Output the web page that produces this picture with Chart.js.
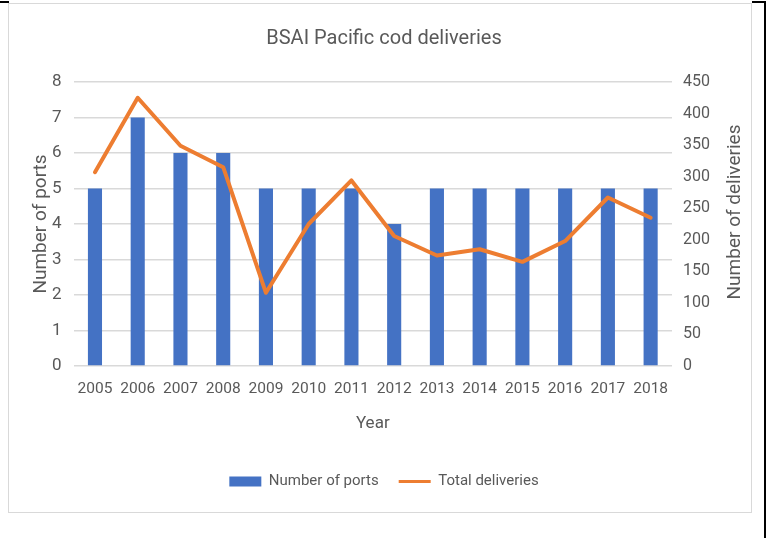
<!DOCTYPE html>
<html>
<head>
<meta charset="utf-8">
<script src="https://cdn.jsdelivr.net/npm/chart.js@4/dist/chart.umd.min.js"></script>
<style>
  html, body { margin: 0; padding: 0; background: #ffffff; }
  #wrap { position: relative; width: 768px; height: 538px; overflow: hidden; }
  canvas { position: absolute; left: 0; top: 0; }
  .ln { position: absolute; pointer-events: none; }
</style>
</head>
<body>
<div id="wrap">
  <canvas id="c" width="768" height="538"></canvas>
  <div class="ln" style="left:8px;top:3px;width:744px;height:510px;border:1px solid #d9d9d9;box-sizing:border-box;"></div>
  <div class="ln" style="left:0;top:1px;width:9px;height:2px;background:#000;"></div>
  <div class="ln" style="left:752px;top:1px;width:14px;height:2px;background:#000;"></div>
  <div class="ln" style="left:764px;top:1px;width:2px;height:537px;background:#000;"></div>
</div>
<script>
const years = ['2005','2006','2007','2008','2009','2010','2011','2012','2013','2014','2015','2016','2017','2018'];
const ports = [5, 7, 6, 6, 5, 5, 5, 4, 5, 5, 5, 5, 5, 5];
const deliveries = [307, 425, 349, 315, 116, 225, 294, 206, 175, 185, 165, 198, 267, 235];
const chartTitle = 'BSAI Pacific cod deliveries';
const xTitle = 'Year';
const yLeftTitle = 'Number of ports';
const yRightTitle = 'Number of deliveries';
const seriesNames = ['Number of ports', 'Total deliveries'];

const FONT = "Roboto, 'Liberation Sans', sans-serif";
const TXT = '#595959';
const BLUE = '#4472C4';
const ORANGE = '#ED7D31';

// Right axis title reads bottom-to-top, as in the reference
const rightTitlePlugin = {
  id: 'rightTitle',
  afterDraw(chart) {
    const s = chart.scales.y1;
    const ctx = chart.ctx;
    ctx.save();
    ctx.translate(s.right - 33, (chart.chartArea.top + chart.chartArea.bottom) / 2 - 12);
    ctx.rotate(-Math.PI / 2);
    ctx.fillStyle = TXT;
    ctx.font = '19px ' + FONT;
    ctx.textAlign = 'center';
    ctx.textBaseline = 'middle';
    ctx.fillText(yRightTitle, 0, 0);
    ctx.restore();
  }
};

new Chart(document.getElementById('c'), {
  type: 'bar',
  data: {
    labels: years,
    datasets: [
      {
        type: 'bar', label: seriesNames[0], data: ports, yAxisID: 'y',
        backgroundColor: BLUE, borderWidth: 0,
        categoryPercentage: 1, barPercentage: 0.33, order: 1
      },
      {
        type: 'line', label: seriesNames[1], data: deliveries, yAxisID: 'y1',
        borderColor: ORANGE, backgroundColor: ORANGE, borderWidth: 4,
        pointRadius: 0, tension: 0, order: 0, borderJoinStyle: 'round', borderCapStyle: 'round'
      }
    ]
  },
  plugins: [rightTitlePlugin],
  options: {
    responsive: false,
    animation: false,
    devicePixelRatio: 1,
    layout: { padding: { left: 0, right: 0, top: 0, bottom: 39 } },
    plugins: {
      tooltip: { enabled: false },
      title: {
        display: true, text: chartTitle, color: TXT,
        font: { family: FONT, size: 20, weight: 'normal' },
        padding: { top: 27, bottom: 31 }
      },
      legend: {
        position: 'bottom',
        labels: {
          usePointStyle: true, pointStyleWidth: 32, boxHeight: 10,
          padding: 20, color: TXT,
          font: { family: FONT, size: 15 },
          generateLabels: (chart) => chart.data.datasets.map((ds, i) => ({
            text: ds.label,
            fillStyle: i === 0 ? BLUE : ORANGE,
            strokeStyle: i === 0 ? BLUE : ORANGE,
            lineWidth: i === 0 ? 0 : 3,
            pointStyle: i === 0 ? 'rect' : 'line',
            hidden: false, datasetIndex: i, fontColor: TXT
          }))
        }
      }
    },
    scales: {
      x: {
        grid: { display: false }, border: { display: false },
        ticks: { color: TXT, font: { family: FONT, size: 15.5 }, padding: 6, maxRotation: 0, autoSkip: false },
        title: { display: true, text: xTitle, color: TXT, font: { family: FONT, size: 17 }, padding: { top: 0, bottom: 20 } },
        afterFit: (s) => { s.height = 88; }
      },
      y: {
        position: 'left', min: 0, max: 8,
        ticks: { stepSize: 1, color: TXT, font: { family: FONT, size: 17 }, padding: 12 },
        grid: { color: '#d9d9d9', lineWidth: 1.5, drawTicks: false },
        border: { display: false },
        title: { display: true, text: yLeftTitle, color: TXT, font: { family: FONT, size: 19 }, padding: { top: 30, bottom: 0 } },
        afterFit: (s) => { s.width = 73.6; }
      },
      y1: {
        position: 'right', min: 0, max: 450,
        ticks: { stepSize: 50, color: TXT, font: { family: FONT, size: 16 }, padding: 11 },
        grid: { drawOnChartArea: false, drawTicks: false },
        border: { display: false },
        title: { display: false, text: yRightTitle },
        afterFit: (s) => { s.width = 96; }
      }
    }
  }
});
</script>
</body>
</html>
